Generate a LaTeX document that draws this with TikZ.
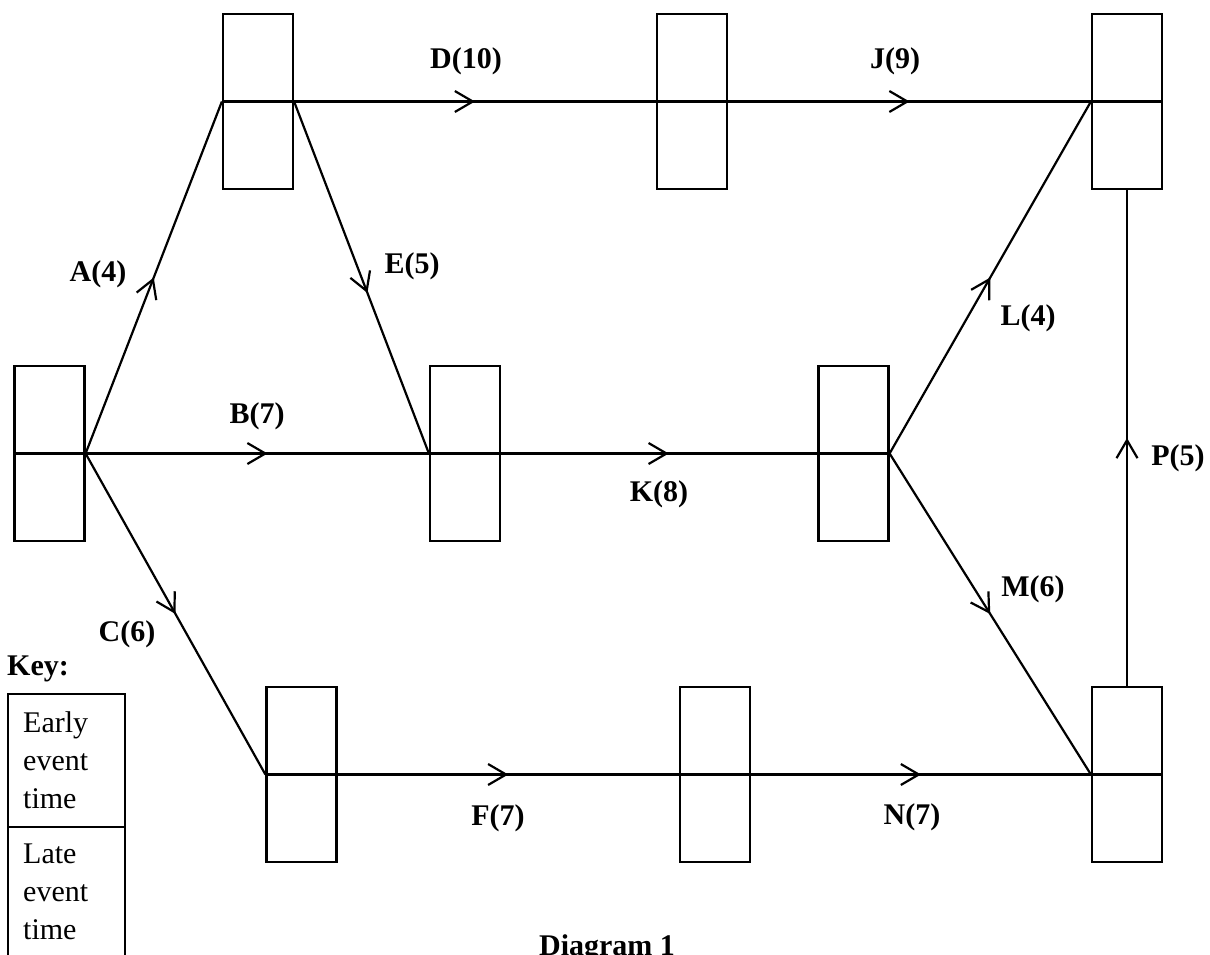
\documentclass[tikz,border=0pt]{standalone}
\usepackage{fontspec}
\setmainfont{Liberation Serif}
\usetikzlibrary{arrows.meta,decorations.markings}
\begin{document}
\begin{tikzpicture}[x=1pt,y=-1pt,
  evt/.style={draw,line width=2.2pt,minimum width=70pt,minimum height=175pt,inner sep=0pt,
    path picture={\draw[line width=3pt] (path picture bounding box.west) -- (path picture bounding box.east);}},
  act/.style={line width=2.2pt},
  arr/.style={act,decoration={markings,mark=at position #1 with {\arrow{Straight Barb[length=18pt,width=21pt,line width=2.2pt]}}},postaction={decorate}},
  lbl/.style={font=\fontsize{30}{36}\selectfont\bfseries,inner sep=0pt},
  txt/.style={font=\fontsize{30}{36}\selectfont,inner sep=0pt,anchor=base west},
  keycell/.style={draw,line width=2.2pt,minimum width=117pt,inner sep=0pt,anchor=north west}]
\clip (0,0) rectangle (1210,954);
\fill[white] (0,0) rectangle (1210,954);

% event boxes
\node[evt] (S)  at (49.5,453.5) {};
\node[evt] (TL) at (258,101.5) {};
\node[evt] (TM) at (692,101.5) {};
\node[evt] (TR) at (1127,101.5) {};
\node[evt] (MM) at (465,453.5) {};
\node[evt] (MR) at (853.5,453.5) {};
\node[evt] (BL) at (301.5,774.5) {};
\node[evt] (BM) at (715,774.5) {};
\node[evt] (BR) at (1127,774.5) {};

% activities
\draw[arr=0.5]  (S.east) -- (TL.west);
\draw[arr=0.53] (S.east) -- (MM.west);
\draw[arr=0.5]  (S.east) -- (BL.west);
\draw[arr=0.5]  (TL.east) -- (TM.west);
\draw[arr=0.544] (TL.east) -- (MM.west);
\draw[arr=0.5]  (TM.east) -- (TR.west);
\draw[arr=0.53] (MM.east) -- (MR.west);
\draw[arr=0.5]  (MR.east) -- (TR.west);
\draw[arr=0.5]  (MR.east) -- (BR.west);
\draw[arr=0.5]  (BL.east) -- (BM.west);
\draw[arr=0.5]  (BM.east) -- (BR.west);
\draw[arr=0.5]  (BR.north) -- (TR.south);

% activity labels
\node[lbl] (lA) at (98,274) {A(4)};
\node[lbl] (lB) at (257,416) {B(7)};
\node[lbl] (lC) at (127,634) {C(6)};
\node[lbl] (lD) at (466,61) {D(10)};
\node[lbl] (lE) at (412,266) {E(5)};
\node[lbl] (lJ) at (895,61) {J(9)};
\node[lbl] (lK) at (659,494) {K(8)};
\node[lbl] (lL) at (1028,318) {L(4)};
\node[lbl] (lM) at (1033,589) {M(6)};
\node[lbl] (lP) at (1178,458) {P(5)};
\node[lbl] (lF) at (498,818) {F(7)};
\node[lbl] (lN) at (912,817) {N(7)};

% key
\node[lbl,anchor=base west] (key) at (7,675) {Key:};
\node[keycell,minimum height=133pt] (k1) at (7,693) {};
\node[keycell,minimum height=160pt] (k2) at (7,826) {};
\node[txt] (t1) at (23,732) {Early};
\node[txt] (t2) at (23,770) {event};
\node[txt] (t3) at (23,808) {time};
\node[txt] (t4) at (23,863) {Late};
\node[txt] (t5) at (23,901) {event};
\node[txt] (t6) at (23,939) {time};

% caption
\node[lbl,anchor=base] (cap) at (607,955) {Diagram 1};
\end{tikzpicture}
\end{document}
